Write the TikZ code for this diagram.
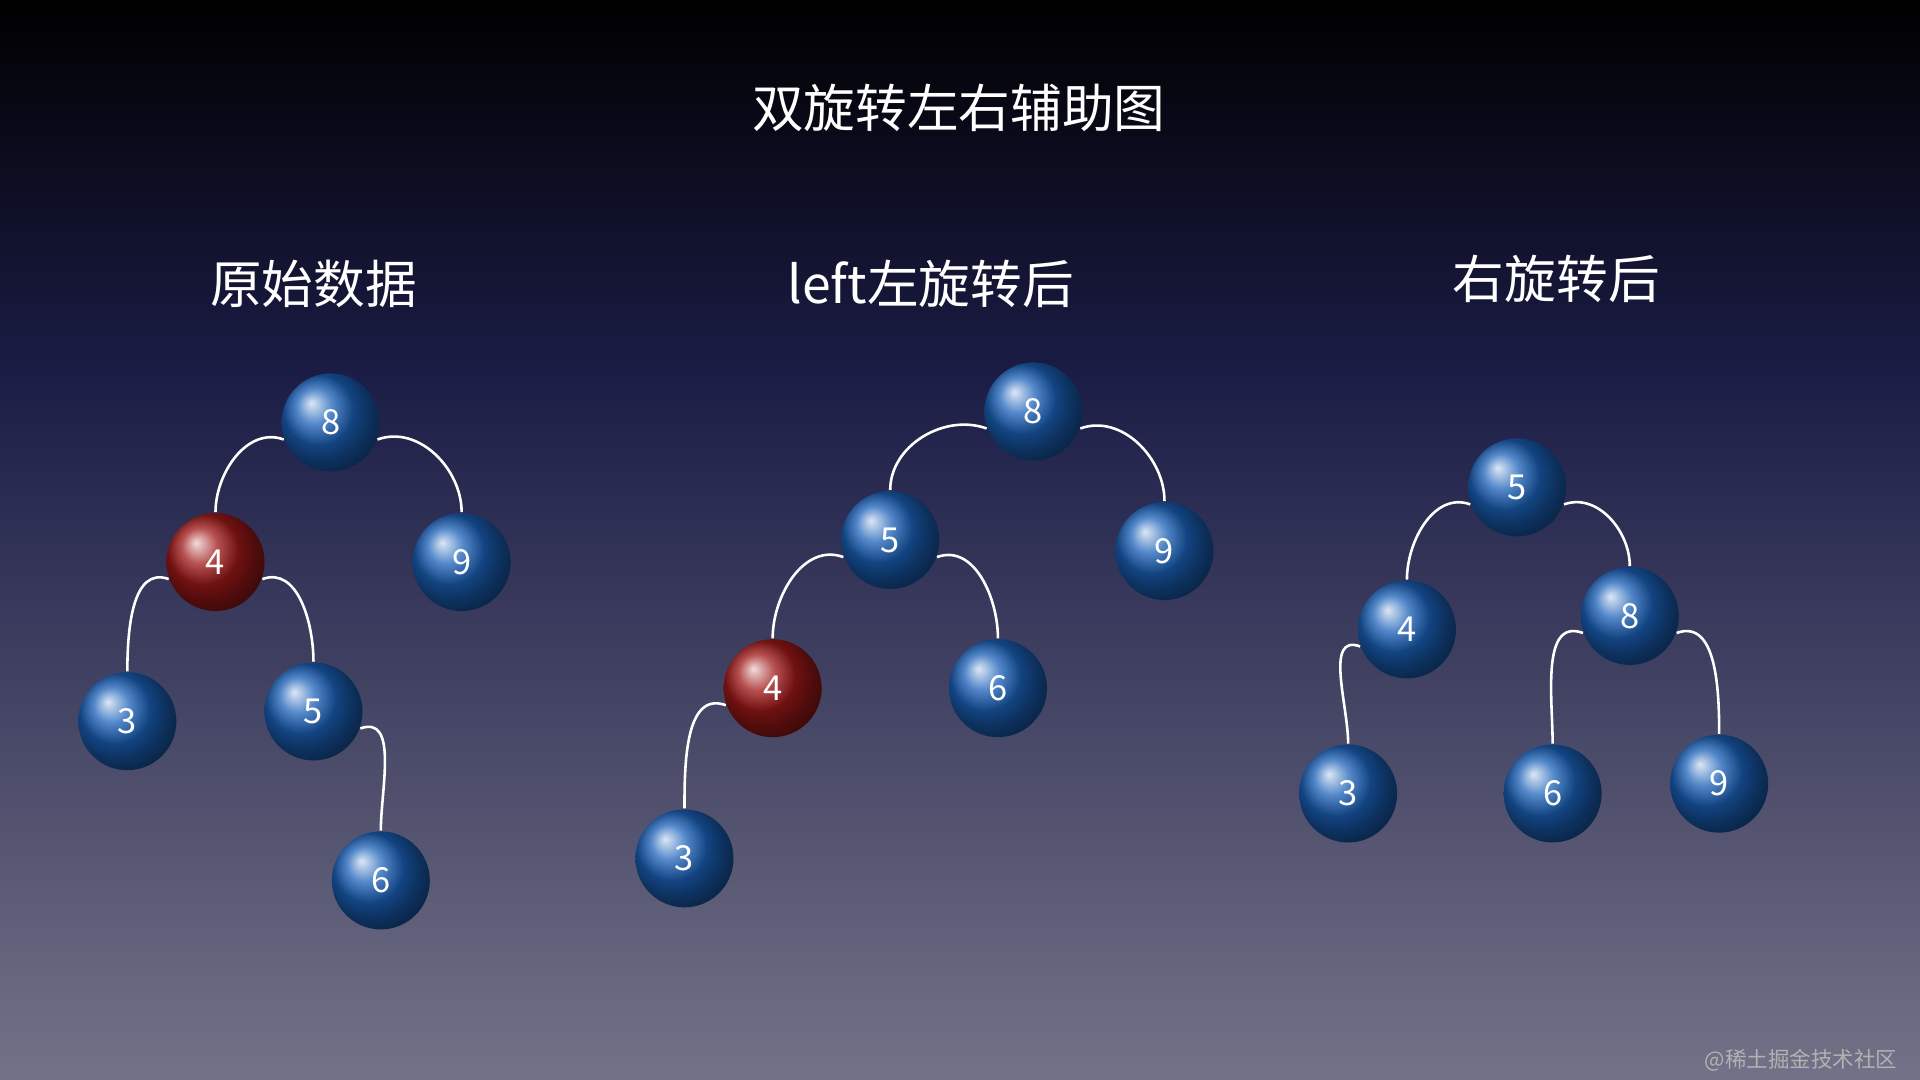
\documentclass[tikz,border=0pt]{standalone}
\usepackage{fontspec}
\setmainfont{Noto Sans CJK SC}
\begin{document}
\begin{tikzpicture}[x=0.01cm,y=0.01cm,
  nd/.style={circle,minimum size=0.8cm,inner sep=0pt,shading=ball,ball color=nb,text=white,font=\fontsize{8}{8}\selectfont},
  rd/.style={nd,ball color=nr},
  ed/.style={white,line width=0.6pt},
  ttl/.style={text=white,font=\fontsize{12}{12}\selectfont}]
\definecolor{nb}{HTML}{1A60B8}
\definecolor{nr}{HTML}{A01818}
\definecolor{bgtop}{HTML}{000000}
\definecolor{bgmid}{HTML}{1A1C45}
\definecolor{bgbot}{HTML}{737288}
\shade[top color=bgmid,bottom color=bgbot] (0,-300) rectangle (1568,-882);
\shade[top color=bgtop,bottom color=bgmid] (0,0) rectangle (1568,-301);
\useasboundingbox (0,0) rectangle (1568,-882);
\node[ttl] (t0) at (783,-88) {双旋转左右辅助图};
\node[ttl] (t1) at (256,-232) {原始数据};
\node[ttl] (t2) at (760,-232) {left左旋转后};
\node[ttl] (t3) at (1271,-228) {右旋转后};
\node[text=gray!60,anchor=east,font=\fontsize{5}{5}\selectfont] (wm) at (1562,-866) {@稀土掘金技术社区};
% tree 1
\node[nd] (a8) at (270,-345) {8};
\node[rd] (a4) at (176,-459) {4};
\node[nd] (a9) at (377,-459) {9};
\node[nd] (a3) at (104,-589) {3};
\node[nd] (a5) at (256,-581) {5};
\node[nd] (a6) at (311,-719) {6};
% tree 2
\node[nd] (b8) at (844,-336) {8};
\node[nd] (b5) at (727,-441) {5};
\node[nd] (b9) at (951,-450) {9};
\node[rd] (b4) at (631,-562) {4};
\node[nd] (b6) at (815,-562) {6};
\node[nd] (b3) at (559,-701) {3};
% tree 3
\node[nd] (c5) at (1239,-398) {5};
\node[nd] (c4) at (1149,-514) {4};
\node[nd] (c8) at (1331,-503) {8};
\node[nd] (c3) at (1101,-648) {3};
\node[nd] (c6) at (1268,-648) {6};
\node[nd] (c9) at (1404,-640) {9};
\foreach \p/\c in {a8/a4,a4/a3,b8/b5,b5/b4,b4/b3,c5/c4,c4/c3,c8/c6}
  \draw[ed] (\p.200) to[out=160,in=90] (\c.north);
\foreach \p/\c in {a8/a9,a4/a5,a5/a6,b8/b9,b5/b6,c5/c8,c8/c9}
  \draw[ed] (\p.-20) to[out=20,in=90] (\c.north);
\end{tikzpicture}
\end{document}
